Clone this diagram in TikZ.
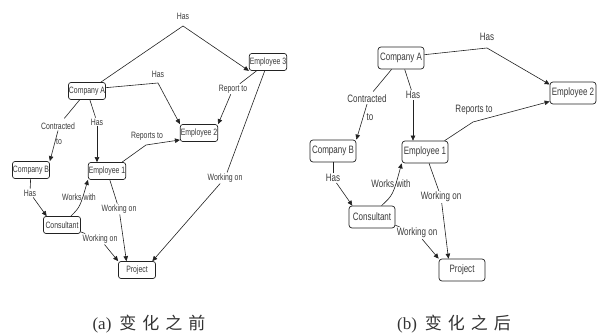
\documentclass[tikz,border=0pt]{standalone}
\usepackage{fontspec}
\setmainfont{Liberation Serif}
\newfontfamily\cjk{Noto Sans CJK SC}
\newfontfamily\dfont[FakeStretch=0.75]{Liberation Sans}
\usetikzlibrary{arrows.meta}
\definecolor{txt}{HTML}{3A3A3A}
\definecolor{ln}{HTML}{222222}
\newcommand{\cs}{\hspace{6pt}}
\begin{document}
\begin{tikzpicture}[x=1pt,y=1pt,
  boxL/.style={draw=ln, rounded corners=2.5pt, fill=white, text=txt, font=\dfont\fontsize{9.2}{10}\selectfont, minimum width=37pt, minimum height=17pt, inner sep=0.5pt, line width=0.7pt},
  boxR/.style={boxL, font=\dfont\fontsize{10.7}{12}\selectfont, minimum width=46pt, minimum height=22pt, rounded corners=3pt},
  lblL/.style={text=txt, font=\dfont\fontsize{9.2}{10}\selectfont, inner sep=1pt},
  lblR/.style={text=txt, font=\dfont\fontsize{10.7}{12}\selectfont, inner sep=1pt},
  edge/.style={draw=ln, line width=0.6pt},
  arr/.style={edge, -{Triangle[length=5pt,width=4.5pt]}},
  captext/.style={text=black!80, font=\fontsize{17}{19}\selectfont, inner sep=0pt}]
\useasboundingbox (0,0) rectangle (597,-336);

% ---------------- left diagram ----------------
\node[boxL] (CA1) at (87,-91) {Company A};
\node[boxL] (E3) at (268,-62) {Employee 3};
\node[boxL] (E2) at (199,-133) {Employee 2};
\node[boxL] (CB1) at (31,-170) {Company B};
\node[boxL] (E1) at (107,-171) {Employee 1};
\node[boxL] (CO1) at (62,-225) {Consultant};
\node[boxL] (P1) at (137,-270) {Project};

\node[lblL] (hasTop) at (183,-16) {Has};
\coordinate (peak1) at (183,-26);
\node[lblL] (has2) at (158,-74) {Has};
\coordinate (bend2) at (158,-83);
\node[lblL] (rep1) at (233,-89) {Report to};
\node[lblL] (con1) at (58,-126) {Contracted};
\node[lblL] (to1) at (59,-142) {to};
\node[lblL] (has3) at (97,-122) {Has};
\node[lblL] (reps1) at (147,-136) {Reports to};
\coordinate (bend3) at (146,-145);
\node[lblL] (has4) at (30,-193) {Has};
\node[lblL] (ww1) at (79,-197) {Works with};
\node[lblL] (wo1) at (119,-209) {Working on};
\node[lblL] (wo2) at (100,-239) {Working on};
\node[lblL] (wo3) at (225,-178) {Working on};

\draw[arr] ([xshift=-5pt]CA1.north east) -- (peak1) -- (E3.south west);
\draw[arr] (CA1.10) -- (bend2) -- (E2.north west);
\draw[edge] (E3) -- (rep1);
\draw[arr] (rep1) -- (E2.north east);
\draw[edge, shorten >=4pt] (CA1) -- (con1);
\draw[arr] (con1.south) -- (CB1.north east);
\draw[edge] (CA1) -- (has3);
\draw[arr] (has3.south) -- (has3.south |- E1.north);
\draw[arr] ([xshift=-4pt]E1.north east) -- (bend3) -- (E2.200);
\draw[edge] (CB1) -- (has4);
\draw[arr] (has4) -- (CO1.150);
\draw[arr] (CO1.45) .. controls (80,-207) .. (E1.south west);
\draw[edge] (E1) -- (wo1);
\draw[arr] (wo1) -- (P1.140);
\draw[edge] (CO1) -- (wo2);
\draw[arr] (wo2) -- (P1.north west);
\draw[edge] (E3) -- (wo3);
\draw[arr] (wo3) -- (P1.30);

% ---------------- right diagram ----------------
\node[boxR] (CA2) at (401,-58) {Company A};
\node[boxR] (E2r) at (573,-93) {Employee 2};
\node[boxR] (CB2) at (333,-151) {Company B};
\node[boxR] (E1r) at (425,-152) {Employee 1};
\node[boxR] (CO2) at (372,-217) {Consultant};
\node[boxR] (P2) at (462,-270) {Project};

\node[lblR] (hasTopR) at (487,-37) {Has};
\coordinate (peakR) at (487,-48);
\node[lblR] (con2) at (367,-99) {Contracted};
\node[lblR] (to2) at (370,-117) {to};
\node[lblR] (has2r) at (413,-95) {Has};
\node[lblR] (reps2) at (474,-110) {Reports to};
\coordinate (bendR) at (473,-122);
\node[lblR] (has3r) at (333,-178) {Has};
\node[lblR] (ww2) at (391,-184) {Works with};
\node[lblR] (wo1r) at (441,-197) {Working on};
\node[lblR] (wo2r) at (417,-233) {Working on};

\draw[arr] (CA2.8) -- (peakR) -- (E2r.160);
\draw[edge, shorten >=3pt] (CA2) -- (con2);
\draw[arr] (con2.south) -- (CB2.north east);
\draw[edge] (CA2) -- (has2r);
\draw[arr] (has2r.south) -- (has2r.south |- E1r.north);
\draw[arr] (E1r.30) -- (bendR) -- (E2r.200);
\draw[edge] (CB2) -- (has3r);
\draw[arr] (has3r) -- (CO2.150);
\draw[arr] (CO2.50) .. controls (393,-195) .. (E1r.south west);
\draw[edge] (E1r) -- (wo1r);
\draw[arr] (wo1r) -- (P2.140);
\draw[edge] (CO2) -- (wo2r);
\draw[arr] (wo2r) -- (P2.north west);

% ---------------- captions ----------------
\node[captext] (capA) at (149,-324) {(a)\hspace{8pt}{\cjk 变\cs 化\cs 之\cs 前}};
\node[captext] (capB) at (454,-324) {(b)\hspace{8pt}{\cjk 变\cs 化\cs 之\cs 后}};
\end{tikzpicture}
\end{document}
